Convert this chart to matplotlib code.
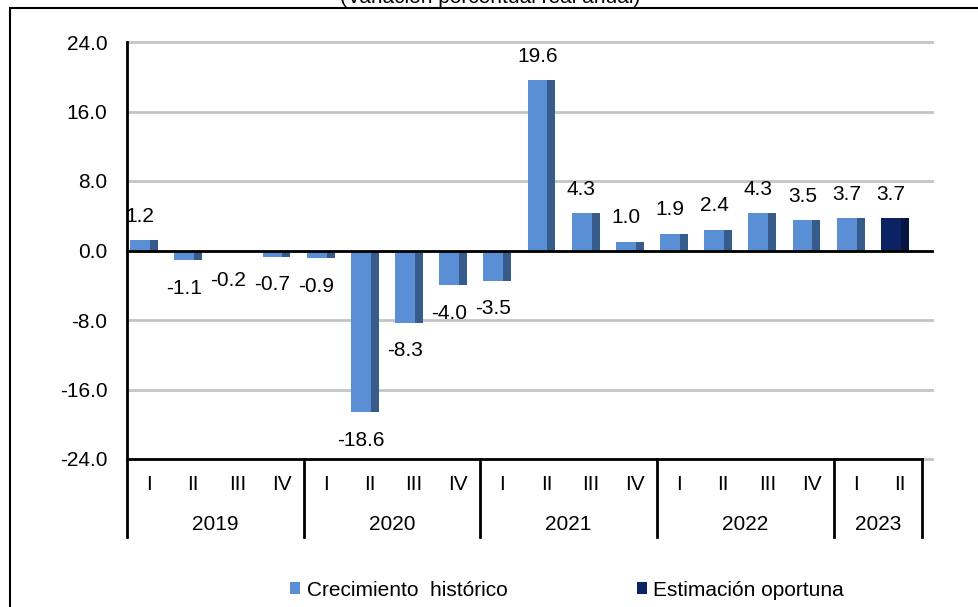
import matplotlib
matplotlib.use("Agg")
import matplotlib.pyplot as plt
from matplotlib.patches import Rectangle

plt.rcParams.update({
    "font.family": ["Liberation Sans", "DejaVu Sans"],
    "font.size": 15,
    "axes.unicode_minus": False,
})

# data
years = ["2019", "2020", "2021", "2022", "2023"]
quarters = ["I", "II", "III", "IV", "I", "II", "III", "IV", "I", "II", "III", "IV",
            "I", "II", "III", "IV", "I", "II"]
historico = [1.2, -1.1, -0.2, -0.7, -0.9, -18.6, -8.3, -4.0, -3.5, 19.6, 4.3, 1.0,
             1.9, 2.4, 4.3, 3.5, 3.7]
oportuna = [3.7]
yticks = [24.0, 16.0, 8.0, 0.0, -8.0, -16.0, -24.0]
title = "(Variación porcentual real anual)"

LIGHT = "#5A8ED5"
LIGHT_SIDE = "#375C8C"
DARK = "#0B2362"
DARK_SIDE = "#061640"
FS = 15

W, H = 979, 607
fig = plt.figure(figsize=(W / 100, H / 100), dpi=100)
ax = fig.add_axes([127 / W, 1 - 459 / H, (922 - 127) / W, (459 - 42) / H])

n_hist = len(historico)
values = historico + oportuna
sides = [LIGHT_SIDE] * n_hist + [DARK_SIDE] * len(oportuna)
xs = list(range(len(values)))

# front face + darker side strip for the pseudo-3D look
front_w, side_w = 0.453, 0.181
ax.bar([x - 0.205 for x in xs[:n_hist]], historico, width=front_w, color=LIGHT,
       linewidth=0, zorder=3, label="Crecimiento  histórico")
ax.bar([x - 0.205 for x in xs[n_hist:]], oportuna, width=front_w, color=DARK,
       linewidth=0, zorder=3, label="Estimación oportuna")
ax.bar([x + 0.111 for x in xs], values, width=side_w, color=sides, linewidth=0, zorder=3)

for x, v in zip(xs, values):
    off = 24 if v >= 0 else -28
    ax.annotate(f"{v:.1f}", (x - 0.21, v), xytext=(0, off), textcoords="offset pixels",
                ha="center", va="center", fontsize=FS, zorder=5)

ax.set_xlim(-0.5, len(values) - 0.5)
ax.set_ylim(-24, 24)
ax.set_yticks(yticks)
ax.set_yticklabels([f"{t:.1f}" for t in yticks])
ax.tick_params(axis="y", length=0, pad=14, labelsize=FS)
ax.set_xticks([])
for s in ax.spines.values():
    s.set_visible(False)

# gridlines, slightly longer than the plot area
for t in yticks:
    ax.axhline(t, xmin=0, xmax=1.013, color="#c4c4c4", lw=2, zorder=1, clip_on=False)
ax.axhline(0, xmin=0, xmax=1.013, color="black", lw=2, zorder=4, clip_on=False)
ax.axhline(-24, xmin=0, xmax=1.0, color="black", lw=2, zorder=4, clip_on=False)

# left axis line and category separators
low = -(537 - 459) / 417
ax.plot([0, 0], [1, low], transform=ax.transAxes, color="black", lw=2, clip_on=False)
tr = ax.get_xaxis_transform()
start = 0
for i, y in enumerate(years):
    cnt = 4 if i < len(years) - 1 else 2
    end = start + cnt
    ax.plot([end - 0.5, end - 0.5], [0, low], transform=tr, color="black", lw=2, clip_on=False)
    ax.text((start + end - 1) / 2, -(524 - 459) / 417, y, transform=tr,
            ha="center", va="center", fontsize=FS)
    start = end
for x, q in zip(xs, quarters):
    ax.text(x, -(485 - 459) / 417, q, transform=tr, ha="center", va="center", fontsize=FS)

fig.legend(loc="center", bbox_to_anchor=(567 / W, 1 - 590 / H), ncol=2, frameon=False,
           handlelength=0.5, handleheight=0.5, handletextpad=0.3, columnspacing=6.2,
           fontsize=FS)

fig.text(490 / W, 1 - 3 / H, title, ha="center", va="baseline", fontsize=FS)
fig.add_artist(Rectangle((10 / W, -0.1), 1.2, 1.1 - 8 / H, transform=fig.transFigure,
                         fill=False, edgecolor="black", lw=1.5))

fig.savefig("out.png", dpi=100)
